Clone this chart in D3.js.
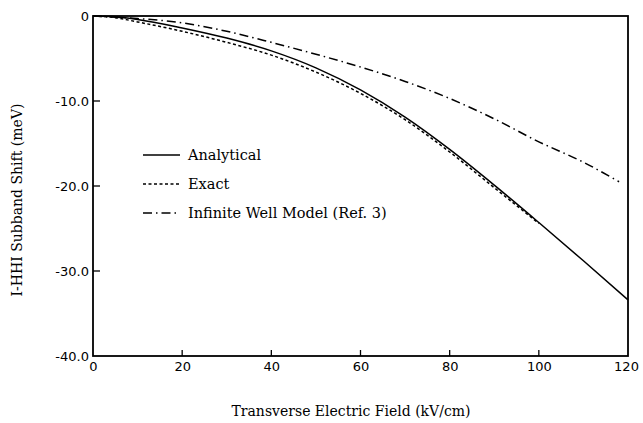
<!DOCTYPE html>
<html><head><meta charset="utf-8">
<script src="https://cdn.jsdelivr.net/npm/d3@7"></script>
<style>body{margin:0;background:#fff}svg{display:block}</style>
</head><body>
<script>
const fieldX = [0,5,10,20,30,40,50,60,70,80,90,100,110,120];
const analytical = [0,-0.1,-0.4,-1.4,-2.6,-4.1,-6.1,-8.7,-11.9,-15.7,-19.9,-24.3,-28.8,-33.4];
const exactX = [0,5,10,20,30,40,50,60,70,80,90,100];
const exact = [0,-0.2,-0.7,-1.8,-3.1,-4.6,-6.6,-9.1,-12.2,-16.0,-20.2,-24.4];
const wellX = [0,10,20,30,40,50,60,70,80,90,100,110,118];
const infiniteWell = [0,-0.3,-0.8,-1.8,-3.1,-4.5,-6.0,-7.7,-9.7,-12.1,-14.8,-17.2,-19.5];
const xTicks = [0,20,40,60,80,100,120];
const yTicks = [0,-10,-20,-30,-40];
const yTickLabels = ["0","-10.0","-20.0","-30.0","-40.0"];
const legendLabels = ["Analytical","Exact","Infinite Well Model (Ref. 3)"];

const W=643,H=423;
const svg=d3.select("body").append("svg").attr("width",W).attr("height",H);
const x=d3.scaleLinear().domain([0,120]).range([93,628]);
const y=d3.scaleLinear().domain([0,-40]).range([16,356]);

svg.append("rect").attr("x",x(0)).attr("y",y(0)).attr("width",x(120)-x(0)).attr("height",y(-40)-y(0))
  .attr("fill","none").attr("stroke","#000").attr("stroke-width",1.8);

const tickFont="DejaVu Sans";
const xAx=svg.append("g").attr("transform",`translate(0,${y(-40)})`)
  .call(d3.axisBottom(x).tickValues(xTicks).tickSize(0).tickPadding(6).tickFormat(d3.format("d")));
xAx.select(".domain").remove();
xAx.selectAll("text").attr("font-family",tickFont).attr("font-size",13).attr("fill","#000");
xAx.selectAll("text").filter(d=>d===120).attr("dx",-2);
svg.append("g").selectAll("line").data(xTicks.filter(d=>d>0&&d<120)).join("line")
  .attr("x1",d=>x(d)).attr("x2",d=>x(d)).attr("y1",y(-40)).attr("y2",y(-40)-6)
  .attr("stroke","#000").attr("stroke-width",1.3);

const yAx=svg.append("g").attr("transform",`translate(${x(0)},0)`)
  .call(d3.axisLeft(y).tickValues(yTicks).tickSize(0).tickPadding(4).tickFormat((d,i)=>yTickLabels[i]));
yAx.select(".domain").remove();
yAx.selectAll("text").attr("font-family",tickFont).attr("font-size",13).attr("fill","#000");
svg.append("g").selectAll("line").data(yTicks.filter(d=>d<0&&d>-40)).join("line")
  .attr("x1",x(0)).attr("x2",x(0)+7).attr("y1",d=>y(d)).attr("y2",d=>y(d))
  .attr("stroke","#000").attr("stroke-width",1.3);

const serif="DejaVu Serif";
svg.append("text").attr("x",351).attr("y",416).attr("text-anchor","middle")
  .attr("font-family",serif).attr("font-size",14).text("Transverse Electric Field (kV/cm)");
svg.append("text").attr("transform",`translate(22,${200}) rotate(-90)`).attr("text-anchor","middle")
  .attr("font-family",serif).attr("font-size",14).text("I-HHI Subband Shift (meV)");

const line=d3.line().curve(d3.curveMonotoneX);
const styles=[{dash:null},{dash:"3,2.5"},{dash:"9,4,1.5,4"}];
const series=[[fieldX,analytical],[exactX,exact],[wellX,infiniteWell]];
series.forEach((s,i)=>{
  svg.append("path").attr("d",line(s[0].map((v,j)=>[x(v),y(s[1][j])])))
    .attr("fill","none").attr("stroke","#000").attr("stroke-width",1.5)
    .attr("stroke-dasharray",styles[i].dash);
});

const legY=[155,184,213];
legendLabels.forEach((t,i)=>{
  svg.append("line").attr("x1",143).attr("x2",180).attr("y1",legY[i]).attr("y2",legY[i])
    .attr("stroke","#000").attr("stroke-width",1.5).attr("stroke-dasharray",styles[i].dash);
  svg.append("text").attr("x",188).attr("y",legY[i]+5).attr("font-family",serif).attr("font-size",14.5).text(t);
});
</script>
</body></html>
